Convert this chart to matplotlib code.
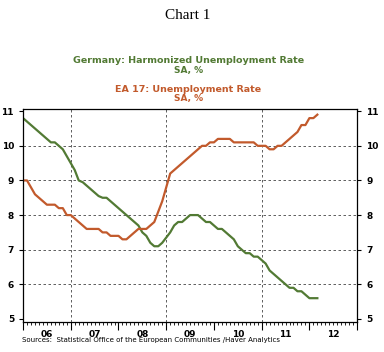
import numpy as np
import matplotlib; matplotlib.use('Agg')
import matplotlib.pyplot as plt
from matplotlib.ticker import MultipleLocator, FixedLocator

# monthly data, Jan 2006 .. Mar 2012
start_year = 2006
germany = [10.8, 10.7, 10.6, 10.5, 10.4, 10.3, 10.2, 10.1, 10.1, 10.0, 9.9, 9.7,
           9.5, 9.3, 9.0, 8.95, 8.85, 8.75, 8.65, 8.55, 8.5, 8.5, 8.4, 8.3,
           8.2, 8.1, 8.0, 7.9, 7.8, 7.7, 7.5, 7.4, 7.2, 7.1, 7.1, 7.2,
           7.35, 7.5, 7.7, 7.8, 7.8, 7.9, 8.0, 8.0, 8.0, 7.9, 7.8, 7.8,
           7.7, 7.6, 7.6, 7.5, 7.4, 7.3, 7.1, 7.0, 6.9, 6.9, 6.8, 6.8,
           6.7, 6.6, 6.4, 6.3, 6.2, 6.1, 6.0, 5.9, 5.9, 5.8, 5.8, 5.7,
           5.6, 5.6, 5.6]
ea17 = [9.0, 9.0, 8.8, 8.6, 8.5, 8.4, 8.3, 8.3, 8.3, 8.2, 8.2, 8.0,
        8.0, 7.9, 7.8, 7.7, 7.6, 7.6, 7.6, 7.6, 7.5, 7.5, 7.4, 7.4,
        7.4, 7.3, 7.3, 7.4, 7.5, 7.6, 7.6, 7.6, 7.7, 7.8, 8.1, 8.4,
        8.8, 9.2, 9.3, 9.4, 9.5, 9.6, 9.7, 9.8, 9.9, 10.0, 10.0, 10.1,
        10.1, 10.2, 10.2, 10.2, 10.2, 10.1, 10.1, 10.1, 10.1, 10.1, 10.1, 10.0,
        10.0, 10.0, 9.9, 9.9, 10.0, 10.0, 10.1, 10.2, 10.3, 10.4, 10.6, 10.6,
        10.8, 10.8, 10.9]
year_labels = ['06', '07', '08', '09', '10', '11', '12']
grid_years = [2007, 2009, 2011]
yticks = [5, 6, 7, 8, 9, 10, 11]

GREEN = '#527a34'
ORANGE = '#c25a2c'

t = start_year + np.arange(len(germany)) / 12.0

fig = plt.figure(figsize=(3.84, 3.52), dpi=100)
fig.patch.set_facecolor('white')
ax = fig.add_axes([0.060, 0.085, 0.870, 0.605])

ax.plot(t, germany, color=GREEN, lw=1.6, solid_joinstyle='round')
ax.plot(t, ea17, color=ORANGE, lw=1.6, solid_joinstyle='round')

ax.set_xlim(2006, 2013)
ax.set_ylim(4.91, 11.06)

# grid
for v in yticks[1:-1]:
    ax.axhline(v, color='#444444', ls=(0, (3, 3)), lw=0.6, zorder=0)
for g in grid_years:
    ax.axvline(g, color='#444444', ls=(0, (3, 3)), lw=0.6, zorder=0)

# x ticks: years major, months minor, labels centred in each year
ax.xaxis.set_major_locator(MultipleLocator(1))
ax.xaxis.set_minor_locator(MultipleLocator(1 / 12))
ax.tick_params(axis='x', which='major', length=6, width=0.8, direction='out', labelbottom=False)
ax.tick_params(axis='x', which='minor', length=2.5, width=0.6, direction='out')
for i, lab in enumerate(year_labels):
    ax.text(start_year + i + 0.5, -0.035, lab, transform=ax.get_xaxis_transform(),
            ha='center', va='top', fontsize=6.5, fontweight='bold')

ax.yaxis.set_major_locator(FixedLocator(yticks))
ax.tick_params(axis='y', which='both', length=3, width=0.8, direction='out',
               left=True, right=True, labelleft=True, labelright=True, labelsize=6.5)
for lab in ax.get_yticklabels():
    lab.set_fontweight('bold')

for s in ax.spines.values():
    s.set_linewidth(0.9)

fig.text(0.49, 0.957, 'Chart 1', ha='center', va='center', fontsize=11, family='Liberation Serif')
fig.text(0.49, 0.828, 'Germany: Harmonized Unemployment Rate', ha='center', va='center',
         fontsize=6.8, fontweight='bold', color=GREEN)
fig.text(0.49, 0.800, 'SA, %', ha='center', va='center', fontsize=6.5, fontweight='bold', color=GREEN)
fig.text(0.49, 0.746, 'EA 17: Unemployment Rate', ha='center', va='center',
         fontsize=6.8, fontweight='bold', color=ORANGE)
fig.text(0.49, 0.719, 'SA, %', ha='center', va='center', fontsize=6.5, fontweight='bold', color=ORANGE)
fig.text(0.058, 0.033, 'Sources:  Statistical Office of the European Communities /Haver Analytics',
         ha='left', va='center', fontsize=5)

fig.savefig('out.png', dpi=100, facecolor='white')
